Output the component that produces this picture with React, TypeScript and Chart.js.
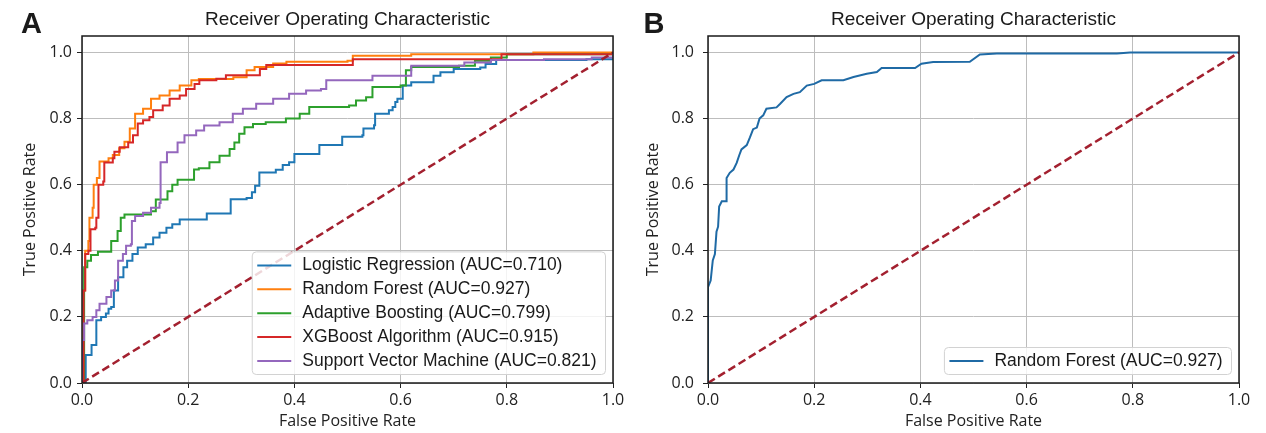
import React, { useEffect, useRef } from 'react';
import { Chart, registerables } from 'chart.js';

Chart.register(...registerables);

const SANS = '"Liberation Sans", Arial, Helvetica, sans-serif';
const OPEN = '"Open Sans", "DejaVu Sans", sans-serif';

// ---------- labels ----------
const chartTitle = 'Receiver Operating Characteristic';
const xAxisLabel = 'False Positive Rate';
const yAxisLabel = 'True Positive Rate';
const tickValues = [0, 0.2, 0.4, 0.6, 0.8, 1.0];
const tickLabels = ['0.0', '0.2', '0.4', '0.6', '0.8', '1.0'];

// ---------- chance line ----------
const chanceFpr = [0, 1];
const chanceTpr = [0, 1];

// ---------- Panel A series ----------
const lrLabel = 'Logistic Regression (AUC=0.710)';
const lrFpr = [0, 0.007, 0.018, 0.027, 0.036, 0.045, 0.05, 0.055, 0.06, 0.068, 0.078, 0.085, 0.095, 0.105, 0.12, 0.134, 0.146, 0.159, 0.17, 0.184, 0.235, 0.28, 0.31, 0.32, 0.326, 0.334, 0.365, 0.378, 0.39, 0.4, 0.447, 0.49, 0.528, 0.53, 0.55, 0.552, 0.578, 0.585, 0.59, 0.594, 0.604, 0.62, 0.662, 0.675, 0.7, 0.75, 0.76, 0.78, 0.95, 1];
const lrTpr = [0, 0.085, 0.115, 0.19, 0.2, 0.21, 0.225, 0.23, 0.28, 0.32, 0.35, 0.37, 0.39, 0.41, 0.42, 0.44, 0.455, 0.47, 0.48, 0.495, 0.513, 0.556, 0.56, 0.577, 0.597, 0.637, 0.645, 0.66, 0.668, 0.693, 0.72, 0.745, 0.75, 0.77, 0.78, 0.815, 0.825, 0.835, 0.85, 0.86, 0.9, 0.91, 0.93, 0.94, 0.95, 0.955, 0.965, 0.977, 0.98, 1];

const rfLabel = 'Random Forest (AUC=0.927)';
const rfFpr = [0, 0.003, 0.006, 0.012, 0.014, 0.02, 0.022, 0.028, 0.033, 0.05, 0.058, 0.07, 0.08, 0.09, 0.1, 0.115, 0.13, 0.146, 0.165, 0.184, 0.206, 0.22, 0.285, 0.31, 0.325, 0.36, 0.385, 0.5, 0.51, 0.62, 0.85, 1];
const rfTpr = [0, 0.28, 0.4, 0.43, 0.5, 0.53, 0.6, 0.62, 0.67, 0.68, 0.69, 0.71, 0.73, 0.77, 0.815, 0.83, 0.86, 0.87, 0.885, 0.9, 0.916, 0.92, 0.925, 0.946, 0.956, 0.967, 0.972, 0.975, 0.99, 0.995, 1.0, 1];

const abLabel = 'Adaptive Boosting (AUC=0.799)';
const abFpr = [0, 0.004, 0.01, 0.017, 0.03, 0.055, 0.067, 0.073, 0.08, 0.13, 0.139, 0.161, 0.17, 0.18, 0.211, 0.22, 0.24, 0.259, 0.278, 0.287, 0.296, 0.306, 0.322, 0.346, 0.384, 0.41, 0.428, 0.503, 0.516, 0.535, 0.547, 0.6, 0.61, 0.62, 0.71, 0.74, 0.77, 0.8, 1];
const abTpr = [0, 0.35, 0.37, 0.387, 0.397, 0.43, 0.46, 0.5, 0.51, 0.52, 0.555, 0.58, 0.6, 0.615, 0.646, 0.65, 0.668, 0.688, 0.708, 0.728, 0.754, 0.774, 0.784, 0.789, 0.8, 0.815, 0.835, 0.84, 0.855, 0.865, 0.896, 0.9, 0.946, 0.956, 0.96, 0.975, 0.985, 0.995, 1];

const xgbLabel = 'XGBoost Algorithm (AUC=0.915)';
const xgbFpr = [0, 0.003, 0.006, 0.012, 0.016, 0.025, 0.027, 0.031, 0.04, 0.042, 0.058, 0.061, 0.071, 0.087, 0.096, 0.105, 0.115, 0.127, 0.134, 0.152, 0.165, 0.184, 0.196, 0.212, 0.221, 0.253, 0.271, 0.335, 0.347, 0.51, 0.79, 1];
const xgbTpr = [0, 0.28, 0.39, 0.4, 0.465, 0.47, 0.5, 0.6, 0.61, 0.667, 0.68, 0.7, 0.713, 0.728, 0.75, 0.785, 0.795, 0.805, 0.825, 0.84, 0.86, 0.87, 0.89, 0.905, 0.916, 0.921, 0.931, 0.95, 0.962, 0.98, 0.995, 1];

const svmLabel = 'Support Vector Machine (AUC=0.821)';
const svmFpr = [0, 0, 0.004, 0.01, 0.02, 0.027, 0.033, 0.046, 0.055, 0.062, 0.068, 0.077, 0.083, 0.092, 0.094, 0.1, 0.115, 0.13, 0.146, 0.148, 0.16, 0.18, 0.193, 0.215, 0.23, 0.259, 0.284, 0.303, 0.328, 0.36, 0.39, 0.422, 0.45, 0.46, 0.547, 0.62, 0.72, 0.77, 0.87, 0.96, 1];
const svmTpr = [0, 0.13, 0.18, 0.19, 0.2, 0.22, 0.24, 0.26, 0.28, 0.31, 0.37, 0.39, 0.415, 0.42, 0.49, 0.505, 0.515, 0.53, 0.545, 0.668, 0.698, 0.728, 0.75, 0.764, 0.779, 0.789, 0.815, 0.83, 0.845, 0.86, 0.875, 0.885, 0.89, 0.916, 0.93, 0.96, 0.97, 0.977, 0.98, 0.985, 1];

// ---------- Panel B series ----------
const rfbLabel = 'Random Forest (AUC=0.927)';
const rfbFpr = [0, 0, 0.005, 0.009, 0.013, 0.016, 0.019, 0.021, 0.026, 0.035, 0.035, 0.041, 0.048, 0.054, 0.059, 0.063, 0.073, 0.079, 0.085, 0.092, 0.097, 0.104, 0.11, 0.129, 0.136, 0.148, 0.161, 0.173, 0.186, 0.2, 0.214, 0.255, 0.274, 0.299, 0.318, 0.327, 0.39, 0.402, 0.424, 0.493, 0.512, 0.544, 0.77, 0.795, 1];
const rfbTpr = [0, 0.29, 0.31, 0.371, 0.39, 0.458, 0.473, 0.534, 0.55, 0.55, 0.62, 0.636, 0.646, 0.666, 0.69, 0.707, 0.72, 0.743, 0.768, 0.773, 0.8, 0.81, 0.83, 0.834, 0.845, 0.865, 0.875, 0.88, 0.9, 0.905, 0.916, 0.916, 0.926, 0.936, 0.941, 0.953, 0.953, 0.966, 0.971, 0.972, 0.994, 0.997, 0.997, 1.0, 1];

// ---------- colours ----------
const C_BLUE = '#1f77b4';
const C_ORANGE = '#ff7f0e';
const C_GREEN = '#2ca02c';
const C_RED = '#d62728';
const C_PURPLE = '#9467bd';
const C_BLUE_B = '#1f6aa5';
const C_DIAG = '#a3202f';

type Series = { label: string; fpr: number[]; tpr: number[]; color: string; stepped: boolean };

const seriesA: Series[] = [
  { label: lrLabel, fpr: lrFpr, tpr: lrTpr, color: C_BLUE, stepped: true },
  { label: rfLabel, fpr: rfFpr, tpr: rfTpr, color: C_ORANGE, stepped: true },
  { label: abLabel, fpr: abFpr, tpr: abTpr, color: C_GREEN, stepped: true },
  { label: xgbLabel, fpr: xgbFpr, tpr: xgbTpr, color: C_RED, stepped: true },
  { label: svmLabel, fpr: svmFpr, tpr: svmTpr, color: C_PURPLE, stepped: true },
];

const seriesB: Series[] = [
  { label: rfbLabel, fpr: rfbFpr, tpr: rfbTpr, color: C_BLUE_B, stepped: false },
];

type PanelProps = {
  letter: string;
  letterX: number;
  series: Series[];
  left: number;
  width: number;
  plotLeft: number;
  plotRight: number;
  yTitlePad: number;
  yTickPad: number;
};

const HEIGHT = 433;

function Panel(props: PanelProps) {
  const ref = useRef<HTMLCanvasElement | null>(null);

  useEffect(() => {
    const canvas = ref.current;
    if (!canvas) return;
    const { series, letter, letterX, plotLeft, plotRight, width, yTitlePad, yTickPad } = props;

    const datasets: any[] = series.map((s, i) => ({
      label: s.label,
      data: s.fpr.map((x, k) => ({ x, y: s.tpr[k] })),
      borderColor: s.color,
      backgroundColor: s.color,
      borderWidth: 2,
      pointRadius: 0,
      showLine: true,
      fill: false,
      tension: 0,
      stepped: s.stepped ? 'before' : false,
      order: series.length + 1 - i,
    }));
    datasets.push({
      label: 'chance',
      data: chanceFpr.map((x, k) => ({ x, y: chanceTpr[k] })),
      borderColor: C_DIAG,
      backgroundColor: C_DIAG,
      borderWidth: 2.5,
      borderDash: [8, 4],
      pointRadius: 0,
      showLine: true,
      fill: false,
      order: 0,
    });

    const decor = {
      id: 'decor',
      afterDraw(chart: any) {
        const { ctx, chartArea: a } = chart;
        ctx.save();
        // frame
        ctx.strokeStyle = '#1a1a1a';
        ctx.lineWidth = 1.5;
        ctx.strokeRect(a.left, a.top, a.right - a.left, a.bottom - a.top);
        // title
        ctx.fillStyle = '#1a1a1a';
        ctx.font = `19px ${SANS}`;
        ctx.textAlign = 'center';
        ctx.textBaseline = 'middle';
        ctx.fillText(chartTitle, (a.left + a.right) / 2, 20);
        // panel letter
        ctx.font = `bold 29px ${SANS}`;
        ctx.textAlign = 'left';
        ctx.textBaseline = 'alphabetic';
        ctx.fillText(letter, letterX, 33);
        // legend
        ctx.font = `17.5px ${SANS}`;
        const textW = Math.max(...series.map((s) => ctx.measureText(s.label).width));
        const rowH = 23.9, padV = 13.5, padL = 5, lineLen = 34, gap = 11, padR = 9;
        const boxW = padL + lineLen + gap + textW + padR;
        const boxH = (series.length - 1) * rowH + 2 * padV;
        const right = a.right - 7.5;
        const bottom = a.bottom - 8.5;
        const x0 = right - boxW;
        const y0 = bottom - boxH;
        ctx.beginPath();
        ctx.roundRect(x0, y0, boxW, boxH, 4);
        ctx.fillStyle = 'rgba(255,255,255,0.82)';
        ctx.fill();
        ctx.strokeStyle = '#d2d2d2';
        ctx.lineWidth = 1;
        ctx.stroke();
        series.forEach((s, i) => {
          const cy = y0 + padV + i * rowH;
          ctx.beginPath();
          ctx.strokeStyle = s.color;
          ctx.lineWidth = 2;
          ctx.moveTo(x0 + padL, cy);
          ctx.lineTo(x0 + padL + lineLen, cy);
          ctx.stroke();
          ctx.fillStyle = '#1a1a1a';
          ctx.textAlign = 'left';
          ctx.textBaseline = 'middle';
          ctx.fillText(s.label, x0 + padL + lineLen + gap, cy);
        });
        ctx.restore();
      },
    };

    const tickFont = { family: OPEN, size: 16 };
    const chart = new Chart(canvas, {
      type: 'scatter',
      data: { datasets },
      options: {
        animation: false,
        responsive: false,
        devicePixelRatio: 1,
        events: [],
        layout: { padding: { left: 0, top: 36, right: width - plotRight, bottom: 0 } },
        plugins: {
          legend: { display: false },
          tooltip: { enabled: false },
          title: { display: false },
        },
        scales: {
          x: {
            type: 'linear',
            min: 0,
            max: 1,
            afterBuildTicks: (s: any) => {
              s.ticks = tickValues.map((v) => ({ value: v }));
            },
            afterFit: (s: any) => {
              s.height = 50;
            },
            ticks: {
              callback: (_v: any, i: number) => tickLabels[i],
              font: tickFont,
              color: '#222',
              padding: 3,
              maxRotation: 0,
              autoSkip: false,
            },
            grid: { color: '#bdbdbd', lineWidth: 1, tickLength: 5, tickColor: '#222', tickWidth: 1 },
            border: { display: false },
            title: { display: true, text: xAxisLabel, font: tickFont, color: '#222', padding: { top: 0, bottom: 2 } },
          },
          y: {
            type: 'linear',
            min: 0,
            max: 1.05,
            afterBuildTicks: (s: any) => {
              s.ticks = tickValues.map((v) => ({ value: v }));
            },
            afterFit: (s: any) => {
              s.width = plotLeft;
            },
            ticks: {
              callback: (_v: any, i: number) => tickLabels[i],
              font: tickFont,
              color: '#222',
              padding: yTickPad,
              autoSkip: false,
            },
            grid: { color: '#bdbdbd', lineWidth: 1, tickLength: 5, tickColor: '#222', tickWidth: 1 },
            border: { display: false },
            title: { display: true, text: yAxisLabel, font: tickFont, color: '#222', padding: { top: yTitlePad, bottom: 0 } },
          },
        },
      } as any,
      plugins: [decor],
    });
    return () => chart.destroy();
  }, []);

  return (
    <canvas
      ref={ref}
      width={props.width}
      height={HEIGHT}
      style={{ position: 'absolute', left: props.left, top: 0, width: props.width, height: HEIGHT, display: 'block' }}
    />
  );
}

export default function App() {
  return (
    <div style={{ position: 'absolute', left: 0, top: 0, width: 1266, height: HEIGHT, background: '#fff' }}>
      <Panel letter="A" letterX={21} series={seriesA} left={0} width={633} plotLeft={82} plotRight={613} yTitlePad={20.4} yTickPad={5} />
      <Panel letter="B" letterX={10.5} series={seriesB} left={633} width={633} plotLeft={75} plotRight={606} yTitlePad={11} yTickPad={9} />
    </div>
  );
}
